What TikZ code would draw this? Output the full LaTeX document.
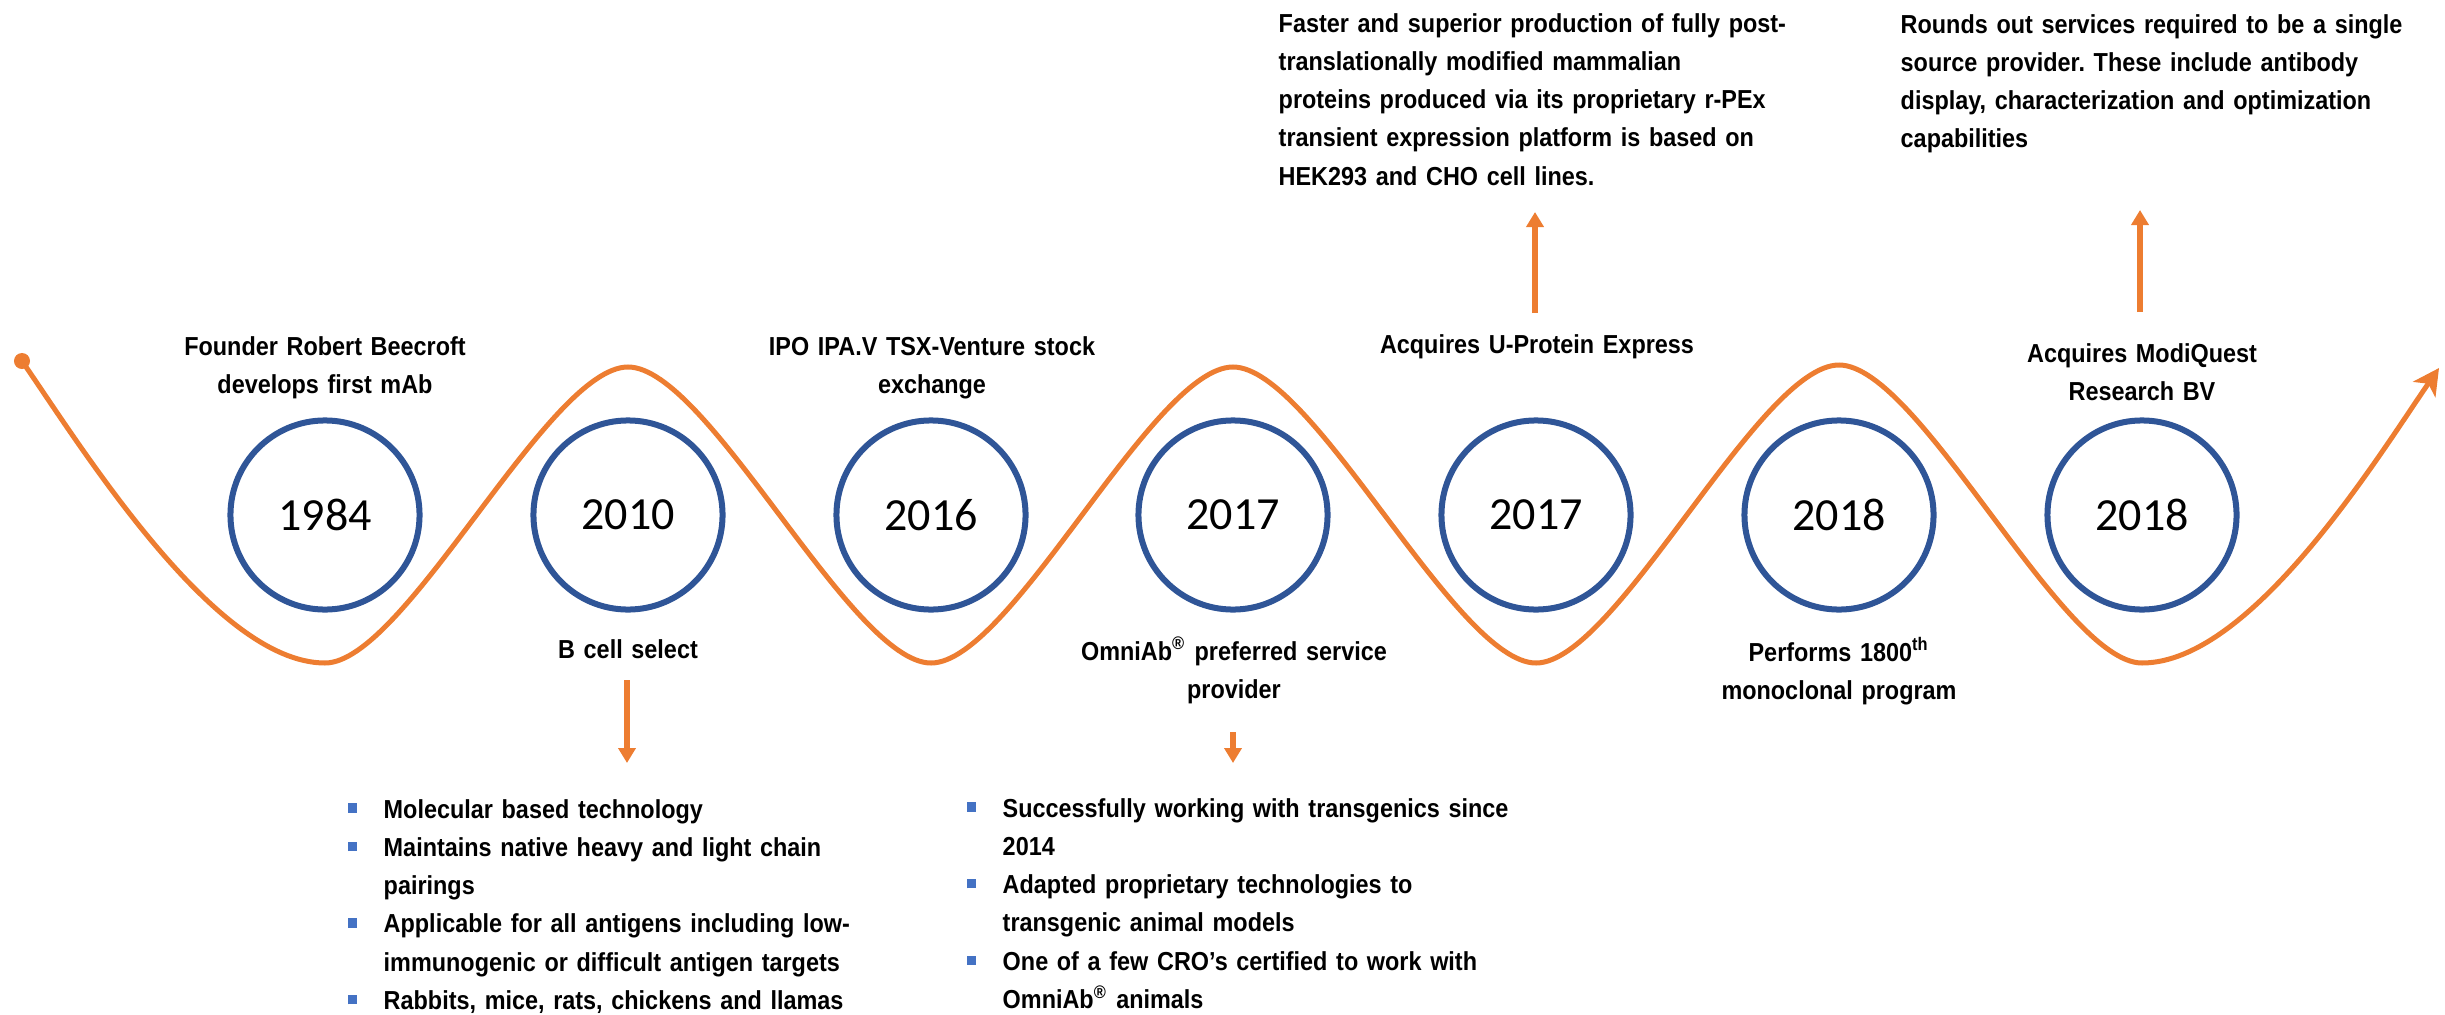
\documentclass[tikz,border=0pt]{standalone}
\usepackage{fontspec}
\usepackage{tikz}
\usetikzlibrary{arrows.meta}
\setmainfont{Liberation Sans}[FakeStretch=0.9]
\newfontfamily\yearFont{Carlito}
\frenchspacing
\definecolor{waveColor}{RGB}{237,125,49}
\definecolor{ringColor}{RGB}{47,85,151}
\definecolor{bulletColor}{RGB}{68,114,196}
\newcommand{\labelFont}{\bfseries\fontsize{.26cm}{.383cm}\selectfont}
\tikzstyle{timeline} = [x = .01cm, y = -.01cm]
\tikzstyle{waveLine} = [color=waveColor, line width=.05cm, line cap=round]
\tikzstyle{yearRing} = [circle, draw=ringColor, line width=.06cm, minimum size=1.89cm, inner sep=0, font=\yearFont\fontsize{.46cm}{.5cm}\selectfont]
\tikzstyle{eventText} = [inner sep=0, text width=6cm, align=center, anchor=base, font=\labelFont]
\tikzstyle{noteText} = [inner sep=0, text width=6.5cm, align=left, anchor=base west, font=\labelFont]
\tikzstyle{pointerArrow} = [color=waveColor, line width=.055cm, -{Triangle[width=.17cm, length=.15cm]}]
\newcommand{\bulletItem}[1]{\noindent\hangindent=.36cm\hangafter=1\makebox[.36cm][l]{\textcolor{bulletColor}{\rule[.053cm]{.094cm}{.094cm}}}#1\par}
\newcommand{\yearCircle}[3]{\node [yearRing] (#1) at (#2, 515) {#3};}
\newcommand{\eventLabel}[4]{\node [eventText] (#1) at (#2, #3) {#4};}
\newcommand{\pointer}[4]{
  \coordinate (#1Tail) at (#2, #3);
  \coordinate (#1Tip) at (#2, #4);
  \draw [pointerArrow] (#1Tail) -- (#1Tip);
}

\begin{document}
\begin{tikzpicture}[timeline]
  \useasboundingbox (0, 0) rectangle (2445, 1015);

  \coordinate (waveStart) at (22, 361);
  \coordinate (troughA) at (325, 663);
  \coordinate (crestA) at (628, 367);
  \coordinate (troughB) at (931, 663);
  \coordinate (crestB) at (1233, 367);
  \coordinate (troughC) at (1536, 663);
  \coordinate (crestC) at (1839, 365);
  \coordinate (troughD) at (2142, 663);
  \coordinate (waveEnd) at (2439, 368);
  \draw [waveLine, -{Stealth[length=.26cm, width=.27cm, inset=.07cm]}] (waveStart)
    .. controls +(60, 87) and +(-110, 0) .. (troughA)
    .. controls +(80, 0) and +(-80, 0) .. (crestA)
    .. controls +(80, 0) and +(-80, 0) .. (troughB)
    .. controls +(80, 0) and +(-80, 0) .. (crestB)
    .. controls +(80, 0) and +(-80, 0) .. (troughC)
    .. controls +(80, 0) and +(-80, 0) .. (crestC)
    .. controls +(80, 0) and +(-80, 0) .. (troughD)
    .. controls +(110, 0) and +(-60, 87) .. (waveEnd);
  \fill [waveColor] (waveStart) circle (.08cm);

  \yearCircle{yearA}{325}{1984}
  \yearCircle{yearB}{628}{2010}
  \yearCircle{yearC}{931}{2016}
  \yearCircle{yearD}{1233}{2017}
  \yearCircle{yearE}{1536}{2017}
  \yearCircle{yearF}{1839}{2018}
  \yearCircle{yearG}{2142}{2018}

  \eventLabel{founderLbl}{325}{355}{Founder Robert Beecroft\\develops first mAb}
  \eventLabel{ipoLbl}{932}{355}{IPO IPA.V TSX-Venture stock\\exchange}
  \eventLabel{uProteinLbl}{1537}{353}{Acquires U-Protein Express}
  \eventLabel{modiLbl}{2142}{362}{Acquires ModiQuest\\Research BV}
  \eventLabel{bCellLbl}{628}{658}{B cell select}
  \eventLabel{omniLbl}{1234}{660}{OmniAb\textsuperscript{®} preferred service\\provider}
  \eventLabel{performsLbl}{1839}{661}{Performs 1800\textsuperscript{th}\\monoclonal program}

  \pointer{uProteinUp}{1535}{313}{212}
  \pointer{modiUp}{2140}{312}{210}
  \pointer{bCellDown}{627}{680}{763}
  \pointer{omniDown}{1233}{732}{763}

  \node [noteText] (fasterTxt) at (1278, 32) {Faster and superior production of fully post-\\translationally modified mammalian\\proteins produced via its proprietary r-PEx\\transient expression platform is based on\\HEK293 and CHO cell lines.};
  \node [noteText] (roundsTxt) at (1900, 33) {Rounds out services required to be a single\\source provider. These include antibody\\display, characterization and optimization\\capabilities};

  \node [noteText] (bCellList) at (347, 818) {\bulletItem{Molecular based technology}\bulletItem{Maintains native heavy and light chain\newline pairings}\bulletItem{Applicable for all antigens including low-\newline immunogenic or difficult antigen targets}\bulletItem{Rabbits, mice, rats, chickens and llamas}};
  \node [noteText] (omniList) at (966, 817) {\bulletItem{Successfully working with transgenics since\newline 2014}\bulletItem{Adapted proprietary technologies to\newline transgenic animal models}\bulletItem{One of a few CRO’s certified to work with\newline OmniAb\textsuperscript{®} animals}};
\end{tikzpicture}
\end{document}
